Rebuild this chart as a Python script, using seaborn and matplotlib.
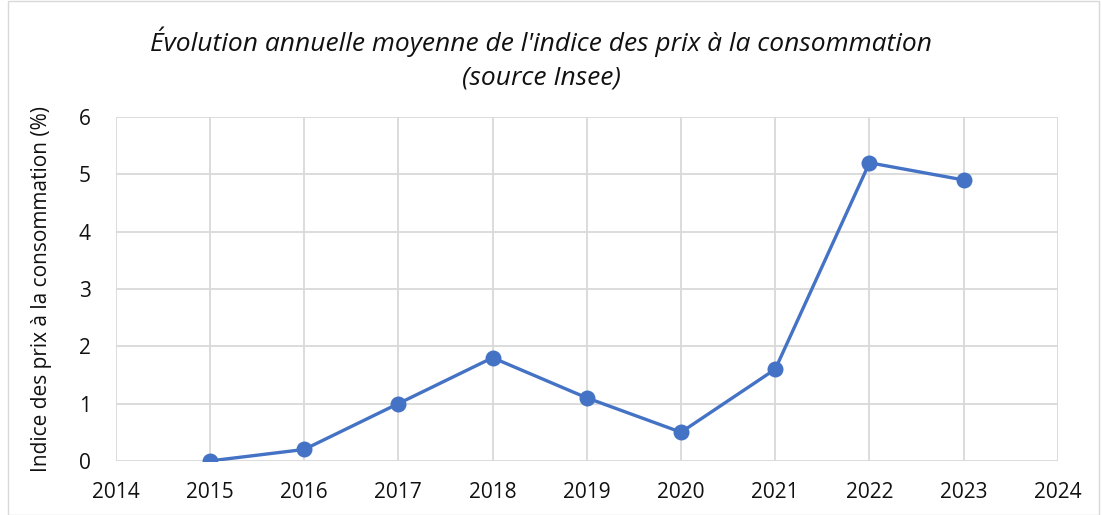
import matplotlib.pyplot as plt
import seaborn as sns
import pandas as pd
import numpy as np
from matplotlib.patches import Rectangle

annees = [2015, 2016, 2017, 2018, 2019, 2020, 2021, 2022, 2023]
inflation = [0.0, 0.2, 1.0, 1.8, 1.1, 0.5, 1.6, 5.2, 4.9]
x_ticks = list(range(2014, 2025))
y_ticks = [0, 1, 2, 3, 4, 5, 6]

df = pd.DataFrame({'Année': annees, 'IPC': inflation})

sns.set_style("white")
plt.rcParams['font.family'] = ['Open Sans', 'DejaVu Sans']

fig = plt.figure(figsize=(11.02, 5.15), dpi=100)
ax = fig.add_axes([0.105, 0.105, 0.855, 0.668])

sns.lineplot(data=df, x='Année', y='IPC', ax=ax, color='#4472C4', linewidth=2.4,
             marker='o', markersize=11.5, markeredgewidth=0, zorder=3)

ax.set_xlim(2014, 2024)
ax.set_ylim(0, 6)
ax.set_xticks(x_ticks)
ax.set_yticks(y_ticks)
ax.tick_params(axis='both', labelsize=15, length=0, colors='#111111')
ax.tick_params(axis='y', pad=18)
ax.tick_params(axis='x', pad=15)
ax.grid(True, color='#D9D9D9', linewidth=1.3)
for s in ax.spines.values():
    s.set_visible(False)
ax.set_xlabel('')
ax.set_ylabel('Indice des prix à la consommation (%)', fontsize=15, color='#111111', labelpad=19)

fig.text(0.491, 0.918, "Évolution annuelle moyenne de l'indice des prix à la consommation",
         ha='center', va='center', fontsize=19, style='italic', color='#111111')
fig.text(0.491, 0.848, "(source Insee)", ha='center', va='center', fontsize=19,
         style='italic', color='#111111')

fig.patches.append(Rectangle((0.007, 0.0), 0.99, 0.998, transform=fig.transFigure,
                             fill=False, edgecolor='#D9D9D9', linewidth=1))

plt.savefig('out.png', dpi=100)
